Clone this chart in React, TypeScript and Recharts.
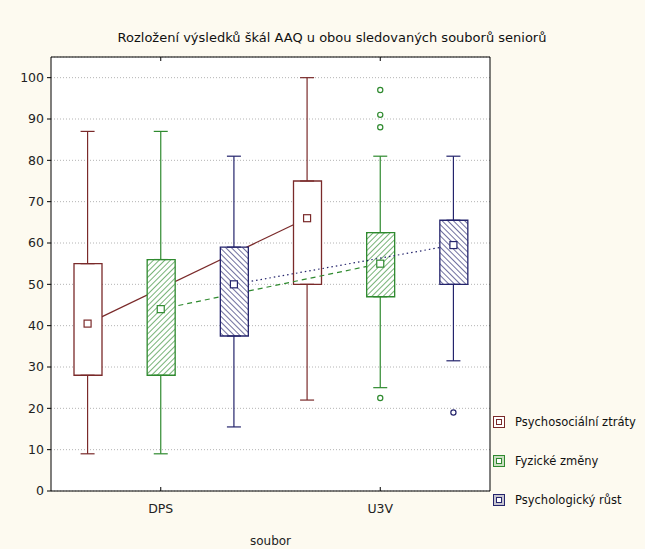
import React from "react";
import {
  ComposedChart,
  Bar,
  Cell,
  Line,
  Scatter,
  ErrorBar,
  XAxis,
  YAxis,
  CartesianGrid,
} from "recharts";

const groups = ["DPS", "U3V"];
const seriesNames = ["Psychosociální ztráty", "Fyzické změny", "Psychologický růst"];
const seriesColors = ["#7a2a2a", "#2f8a2f", "#24246c"];
const seriesFills = ["#ffffff", "url(#hatchGreen)", "url(#hatchBlue)"];
const seriesDash = [undefined, "5 4", "1.5 3"];

// one entry per box: DPS (3 series), then U3V (3 series)
const whiskerLow = [9, 9, 15.5, 22, 25, 31.5];
const quartileLow = [28, 28, 37.5, 50, 47, 50];
const middle = [40.5, 44, 50, 66, 55, 59.5];
const quartileHigh = [55, 56, 59, 75, 62.5, 65.5];
const whiskerHigh = [87, 87, 81, 100, 81, 81];
const outliers = [[], [], [], [], [97, 91, 88, 22.5], [19]];

const yTicks = [0, 10, 20, 30, 40, 50, 60, 70, 80, 90, 100];

const FONT = "'DejaVu Sans', sans-serif";

const rows = middle.map((m, i) => {
  const s = i % 3;
  const row: any = {
    key: `${groups[Math.floor(i / 3)]}-${s}`,
    series: s,
  };
  for (let k = 0; k < 3; k++) {
    row[`bar${k}`] = k === s ? [quartileLow[i], quartileHigh[i]] : null;
    row[`link${k}`] = k === s ? m : null;
  }
  return row;
});

const whiskerPoints = (s: number) =>
  middle.flatMap((_, i) =>
    i % 3 !== s
      ? []
      : [
          { key: rows[i].key, y: quartileHigh[i], err: [0, whiskerHigh[i] - quartileHigh[i]] },
          { key: rows[i].key, y: quartileLow[i], err: [quartileLow[i] - whiskerLow[i], 0] },
        ]
  );

const markPoints = (s: number) =>
  middle.flatMap((m, i) =>
    i % 3 !== s
      ? []
      : [
          { key: rows[i].key, y: m, kind: "median" },
          ...outliers[i].map((o) => ({ key: rows[i].key, y: o, kind: "outlier" })),
        ]
  );

function BottomTick(props: any) {
  const { x, y, payload } = props;
  const [grp, s] = String(payload.value).split("-");
  if (s !== "1") return <g />;
  return (
    <g>
      <line x1={x} x2={x} y1={y} y2={y - 4} stroke="#000" />
      <text x={x} y={y + 22} textAnchor="middle" fontSize={12.5} fill="#222" fontFamily={FONT}>
        {grp}
      </text>
    </g>
  );
}

function TopTick(props: any) {
  const { x, y, payload } = props;
  const s = String(payload.value).split("-")[1];
  if (s !== "1") return <g />;
  return <line x1={x} x2={x} y1={y} y2={y + 4} stroke="#000" />;
}

function LegendIcon({ s }: { s: number }) {
  const c = seriesColors[s];
  return (
    <svg width={12} height={12} style={{ display: "block" }}>
      <rect x={0.5} y={0.5} width={11} height={11} fill={s === 0 ? "#fff" : c} fillOpacity={s === 0 ? 1 : 0.25} stroke={c} />
      <rect x={3.5} y={3.5} width={5} height={5} fill="#fff" stroke={c} />
    </svg>
  );
}

export default function App() {
  return (
    <div
      style={{
        position: "absolute",
        left: 0,
        top: 0,
        width: 645,
        height: 549,
        background: "#fdfaf0",
        fontFamily: FONT,
      }}
    >
      <svg width={0} height={0} style={{ position: "absolute" }}>
        <defs>
          <pattern id="hatchGreen" patternUnits="userSpaceOnUse" width={4} height={4} patternTransform="rotate(45)">
            <rect width={4} height={4} fill="#fff" />
            <line x1={0} y1={0} x2={0} y2={4} stroke={seriesColors[1]} strokeWidth={1.3} />
          </pattern>
          <pattern id="hatchBlue" patternUnits="userSpaceOnUse" width={4} height={4} patternTransform="rotate(-45)">
            <rect width={4} height={4} fill="#fff" />
            <line x1={0} y1={0} x2={0} y2={4} stroke={seriesColors[2]} strokeWidth={1.3} />
          </pattern>
        </defs>
      </svg>

      <div
        style={{
          position: "absolute",
          left: 0,
          width: 664,
          top: 30,
          textAlign: "center",
          fontSize: 13,
          lineHeight: "15px",
          color: "#111",
        }}
      >
        Rozložení výsledků škál AAQ u obou sledovaných souborů seniorů
      </div>

      <ComposedChart
        width={645}
        height={549}
        data={rows}
        margin={{ top: 56, right: 147, bottom: 0, left: 0 }}
      >
        <CartesianGrid
          vertical={false}
          fill="#ffffff"
          fillOpacity={1}
          stroke="#b4b4b4"
          strokeDasharray="1 2"
        />
        <XAxis
          dataKey="key"
          allowDuplicatedCategory={false}
          height={58}
          tickLine={false}
          tickSize={0}
          tickMargin={0}
          tick={<BottomTick />}
          interval={0}
          axisLine={{ stroke: "#000" }}
          label={{ value: "soubor", position: "insideBottom", offset: 4, fontSize: 12, fill: "#222", fontFamily: FONT }}
        />
        <XAxis
          xAxisId="top"
          orientation="top"
          dataKey="key"
          allowDuplicatedCategory={false}
          height={1}
          tickLine={false}
          tickSize={0}
          tickMargin={0}
          tick={<TopTick />}
          interval={0}
          axisLine={{ stroke: "#000" }}
        />
        {[0, 1, 2].map((s) => (
          <XAxis key={s} xAxisId={`s${s}`} dataKey="key" allowDuplicatedCategory={false} hide />
        ))}
        <YAxis
          domain={[0, 105]}
          ticks={yTicks}
          width={51}
          allowDataOverflow
          tickSize={4}
          tickMargin={3}
          axisLine={{ stroke: "#000" }}
          tickLine={{ stroke: "#000" }}
          tick={{ fontSize: 12.5, fill: "#222", fontFamily: FONT }}
        />
        <YAxis
          yAxisId="right"
          orientation="right"
          domain={[0, 105]}
          ticks={yTicks}
          width={8}
          tickSize={5}
          tickFormatter={() => ""}
          axisLine={{ stroke: "#000" }}
          tickLine={{ stroke: "#000" }}
        />

        {[0, 1, 2].flatMap((s) => [
          <Line
            key={`line${s}`}
            dataKey={`link${s}`}
            type="linear"
            connectNulls
            dot={false}
            activeDot={false}
            stroke={seriesColors[s]}
            strokeWidth={1.2}
            strokeDasharray={seriesDash[s]}
            isAnimationActive={false}
            {...({ zIndex: 100 + s * 10 } as any)}
          />,
          <Bar
            key={`bar${s}`}
            xAxisId={`s${s}`}
            dataKey={`bar${s}`}
            barSize={28}
            isAnimationActive={false}
            {...({ zIndex: 101 + s * 10 } as any)}
          >
            {rows.map((r, i) => (
              <Cell
                key={i}
                fill={r.series === s ? seriesFills[s] : "none"}
                stroke={r.series === s ? seriesColors[s] : "none"}
                strokeWidth={1.3}
              />
            ))}
          </Bar>,
          <Scatter
            key={`whisk${s}`}
            data={whiskerPoints(s)}
            dataKey="y"
            shape={() => <g />}
            isAnimationActive={false}
            {...({ zIndex: 102 + s * 10 } as any)}
          >
            <ErrorBar dataKey="err" direction="y" width={7} stroke={seriesColors[s]} strokeWidth={1.2} />
          </Scatter>,
          <Scatter
            key={`marks${s}`}
            data={markPoints(s)}
            dataKey="y"
            isAnimationActive={false}
            {...({ zIndex: 103 + s * 10 } as any)}
            shape={(p: any) =>
              p.payload.kind === "median" ? (
                <rect x={p.cx - 3.5} y={p.cy - 3.5} width={7} height={7} fill="#fff" stroke={seriesColors[s]} strokeWidth={1.2} />
              ) : (
                <circle cx={p.cx} cy={p.cy} r={2.6} fill="none" stroke={seriesColors[s]} strokeWidth={1.2} />
              )
            }
          />,
        ])}
      </ComposedChart>

      {seriesNames.map((name, s) => (
        <div
          key={name}
          style={{
            position: "absolute",
            left: 493,
            top: 415 + s * 39,
            display: "flex",
            alignItems: "center",
            gap: 10,
            fontSize: 11.5,
            lineHeight: "14px",
            color: "#111",
            whiteSpace: "nowrap",
          }}
        >
          <LegendIcon s={s} />
          <span>{name}</span>
        </div>
      ))}
    </div>
  );
}
